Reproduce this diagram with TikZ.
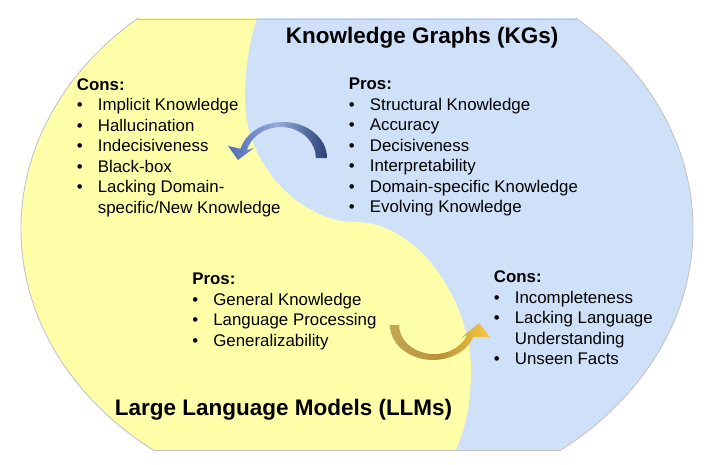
\documentclass[tikz,border=0pt]{standalone}
\usepackage{fontspec}
\setmainfont{Liberation Sans}

\definecolor{kgblue}{RGB}{207,225,249}
\definecolor{llmyellow}{RGB}{255,255,170}
\definecolor{rimgray}{RGB}{196,196,196}
\definecolor{arrowdark}{RGB}{40,62,118}
\definecolor{arrowmid}{RGB}{78,108,182}
\definecolor{arrowlight}{RGB}{150,172,218}
\definecolor{golddark}{RGB}{186,146,56}
\definecolor{goldtail}{RGB}{196,166,82}
\definecolor{goldlight}{RGB}{248,202,70}

\newcommand{\bul}[1]{\makebox[0.42cm][l]{\textbullet}#1}

\begin{document}
\begin{tikzpicture}[x=0.02cm, y=0.02cm,
  headtext/.style={font=\fontsize{12.8}{15}\selectfont\bfseries, inner sep=0, anchor=base west},
  listbox/.style={font=\fontsize{9.6}{11.67}\selectfont, align=left, inner sep=0, anchor=north west}]
\useasboundingbox (0,0) rectangle (716,464);
% 两半：KG 蓝色，LLM 黄色
\begin{scope}
\clip (0,14) rectangle (716,445);
\clip (357,235) ellipse [x radius=336, y radius=278];
\fill[kgblue] (0,0) rectangle (716,464);
\fill[llmyellow] (262,470) -- (262,460) .. controls (250,430) and (245,400) .. (245,364)
  .. controls (245,300) and (300,242) .. (355,242)
  .. controls (420,242) and (471,160) .. (471,94)
  .. controls (471,45) and (458,15) .. (448,0) -- (448,-10) -- (-10,-10) -- (-10,470) -- cycle;
\end{scope}
% 外框
\begin{scope}
\clip (0,14) rectangle (716,445);
\draw[rimgray, line width=0.5pt] (357,235) ellipse [x radius=336, y radius=278];
\end{scope}
\begin{scope}
\clip (357,235) ellipse [x radius=336, y radius=278];
\draw[rimgray, line width=0.5pt] (0,14) rectangle (716,445);
\end{scope}
% 蓝色弯箭头：KG -> LLM
\shade[left color=arrowmid, right color=arrowdark, middle color=arrowlight]
  (327,306) arc [start angle=0, end angle=165, x radius=44, y radius=36]
  -- (228,318) -- (238,304) -- (254,316) -- (247,314)
  arc [start angle=165, end angle=0, x radius=35, y radius=31] -- cycle;
% 金色弯箭头：LLM -> KG
\shade[left color=goldtail, right color=goldlight, middle color=golddark]
  (390,139) arc [start angle=180, end angle=340, x radius=43, y radius=35]
  -- (490,127) -- (479,141) -- (461,126) -- (467,129)
  arc [start angle=340, end angle=180, x radius=35, y radius=29] -- cycle;
% 标题
\node[headtext] (kgtitle) at (285.5,420.7) {Knowledge Graphs (KGs)};
\node[headtext] (llmtitle) at (114.5,48.3) {Large Language Models (LLMs)};
% 优缺点列表
\node[listbox] (llmcons) at (76.5,386) {\textbf{Cons:}\\
  \bul{Implicit Knowledge}\\ \bul{Hallucination}\\ \bul{Indecisiveness}\\
  \bul{Black-box}\\ \bul{Lacking Domain-}\\ \hspace*{0.42cm}specific/New Knowledge};
\node[listbox] (kgpros) at (348.5,386) {\textbf{Pros:}\\
  \bul{Structural Knowledge}\\ \bul{Accuracy}\\ \bul{Decisiveness}\\
  \bul{Interpretability}\\ \bul{Domain-specific Knowledge}\\ \bul{Evolving Knowledge}};
\node[listbox] (llmpros) at (192,191.3) {\textbf{Pros:}\\
  \bul{General Knowledge}\\ \bul{Language Processing}\\ \bul{Generalizability}};
\node[listbox] (kgcons) at (493.5,193.3) {\textbf{Cons:}\\
  \bul{Incompleteness}\\ \bul{Lacking Language}\\ \hspace*{0.42cm}Understanding\\
  \bul{Unseen Facts}};
\end{tikzpicture}
\end{document}
